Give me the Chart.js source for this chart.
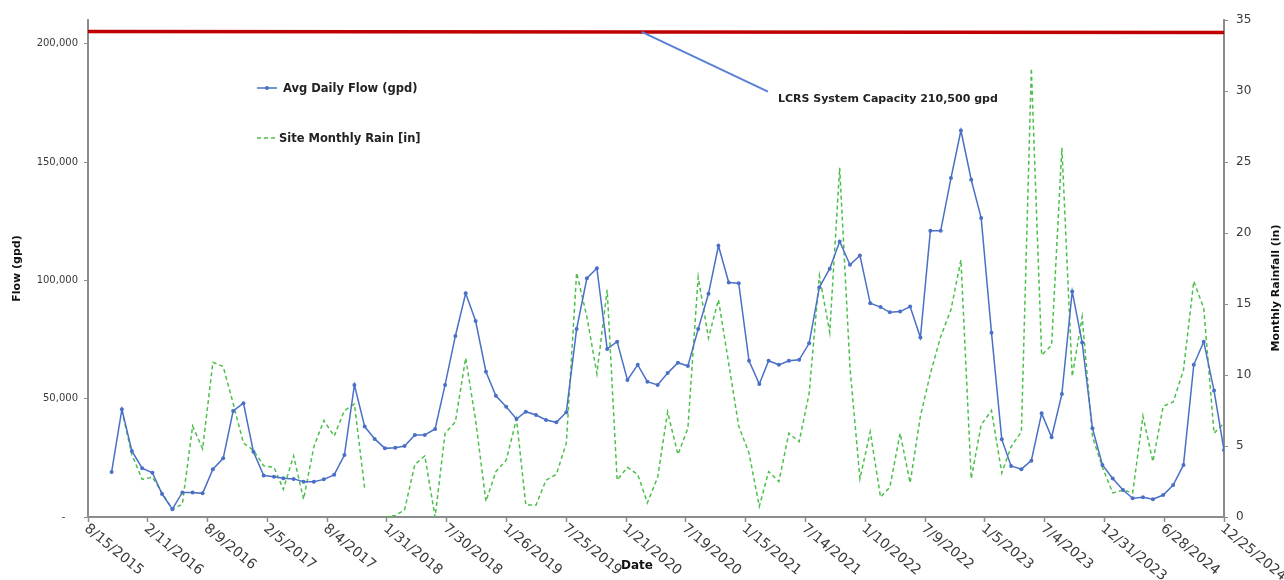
<!DOCTYPE html>
<html>
<head>
<meta charset="utf-8">
<title>Avg Daily Flow vs Monthly Rain</title>
<script src="https://cdn.jsdelivr.net/npm/chart.js@4.4.1/dist/chart.umd.min.js"></script>
<style>
html, body { margin: 0; padding: 0; background: #fff; }
#wrap { width: 1284px; height: 580px; position: relative; }
</style>
</head>
<body>
<div id="wrap"><canvas id="flowChart"></canvas></div>
<script>
/* =========================
   DATA
========================= */

// one reading per month (plotted on the 25th)
const months = [
    '2015-10','2015-11','2015-12',
    '2016-01','2016-02','2016-03','2016-04','2016-05','2016-06','2016-07','2016-08','2016-09','2016-10','2016-11','2016-12',
    '2017-01','2017-02','2017-03','2017-04','2017-05','2017-06','2017-07','2017-08','2017-09','2017-10','2017-11','2017-12',
    '2018-01','2018-02','2018-03','2018-04','2018-05','2018-06','2018-07','2018-08','2018-09','2018-10','2018-11','2018-12',
    '2019-01','2019-02','2019-03','2019-04','2019-05','2019-06','2019-07','2019-08','2019-09','2019-10','2019-11','2019-12',
    '2020-01','2020-02','2020-03','2020-04','2020-05','2020-06','2020-07','2020-08','2020-09','2020-10','2020-11','2020-12',
    '2021-01','2021-02','2021-03','2021-04','2021-05','2021-06','2021-07','2021-08','2021-09','2021-10','2021-11','2021-12',
    '2022-01','2022-02','2022-03','2022-04','2022-05','2022-06','2022-07','2022-08','2022-09','2022-10','2022-11','2022-12',
    '2023-01','2023-02','2023-03','2023-04','2023-05','2023-06','2023-07','2023-08','2023-09','2023-10','2023-11','2023-12',
    '2024-01','2024-02','2024-03','2024-04','2024-05','2024-06','2024-07','2024-08','2024-09','2024-10','2024-11','2024-12'
];

const avgFlow = [
    19000, 45500, 27900,
    20600, 18700, 9700, 3300, 10400, 10400, 10000, 20200, 24800, 44800, 48100, 27600,
    17500, 17000, 16400, 16100, 14900, 14900, 15900, 17800, 26200, 55800, 38200, 33000,
    29000, 29300, 30000, 34700, 34700, 37200, 55800, 76500, 94500, 82800, 61400, 51200,
    46600, 41400, 44500, 43100, 41000, 40000, 44300, 79400, 100900, 105100, 71000, 74100,
    57900, 64300, 57200, 55800, 60800, 65200, 63800, 79400, 94300, 114600, 99100, 98800,
    66000, 56200, 66000, 64300, 66000, 66400, 73400, 97100, 104900, 116400, 106600, 110500,
    90300, 88700, 86500, 86800, 88900, 75800, 120900, 120900, 143200, 163300, 142500, 126300,
    77900, 32800, 21600, 20200, 23800, 43800, 33700, 52000, 95300, 73700, 37500, 22000,
    16300, 11400, 7900, 8300, 7500, 9300, 13500, 22000, 64300, 74100, 53400, 28300
];

const monthlyRain = [
    null, 7.5, 4.4,
    2.65, 2.8, 1.7, 0.55, 0.9, 6.4, 4.8, 10.9, 10.6, 8.0, 5.2, 4.7,
    3.6, 3.5, 1.95, 4.3, 1.25, 4.95, 6.8, 5.7, 7.5, 7.95, 2.0, null,
    0, 0.1, 0.5, 3.7, 4.3, 0, 5.9, 6.7, 11.2, 6.8, 1.1, 3.2,
    4.0, 6.9, 0.85, 0.85, 2.6, 3.0, 5.2, 17.2, 14.1, 10.1, 16.0, 2.6,
    3.5, 3.0, 1.0, 2.8, 7.4, 4.4, 6.25, 16.9, 12.6, 15.3, 10.8, 6.4,
    4.5, 0.75, 3.2, 2.5, 5.9, 5.3, 8.7, 17.0, 13.0, 24.6, 10.5, 2.7,
    6.0, 1.4, 2.1, 5.9, 2.4, 7.1, 10.1, 12.7, 14.6, 18.1, 2.7, 6.5,
    7.5, 3.1, 4.95, 6.0, 31.6, 11.4, 12.1, 26.0, 9.9, 14.1, 5.65, 3.5,
    1.7, 1.9, 1.7, 7.1, 3.9, 7.8, 8.1, 10.35, 16.6, 14.7, 5.9, 6.6
];

// x axis tick labels (every 180 days)
const xTickLabels = [
    '8/15/2015','2/11/2016','8/9/2016','2/5/2017','8/4/2017','1/31/2018','7/30/2018',
    '1/26/2019','7/25/2019','1/21/2020','7/19/2020','1/15/2021','7/14/2021','1/10/2022',
    '7/9/2022','1/5/2023','7/4/2023','12/31/2023','6/28/2024','12/25/2024'
];

const flowTicks = [0, 50000, 100000, 150000, 200000];
const rainTicks = [0, 5, 10, 15, 20, 25, 30, 35];

// system capacity line, as drawn on the chart
const capacityDates = ['8/15/2015', '12/25/2024'];
const capacityFlow = [205100, 204700];

// callout: [date, flow] where the arrow starts / ends and the text sits
const calloutFrom = ['3/8/2020', 205000];
const calloutTo = ['3/23/2021', 179700];
const calloutText = ['4/22/2021', 176700];


/* =========================
   HELPERS
========================= */

const FONT = "'DejaVu Sans', Verdana, sans-serif";
const BLUE = '#4a70c6';
const GREEN = '#4cbf4c';
const RED = '#c00000';
const AXIS = '#8c8c8c';
const TEXT = '#3a3a3a';

function usDay(str){
    let p = str.split('/');
    return Date.UTC(+p[2], +p[0] - 1, +p[1]) / 864e5;
}

function monthDay(str){
    let p = str.split('-');
    return Date.UTC(+p[0], +p[1] - 1, 25) / 864e5;
}

const flowPoints = months.map((m, i) => ({ x: monthDay(m), y: avgFlow[i] }));
const rainPoints = months.map((m, i) => ({ x: monthDay(m), y: monthlyRain[i] }));
const capacityPoints = capacityDates.map((d, i) => ({ x: usDay(d), y: capacityFlow[i] }));

const xMin = usDay(xTickLabels[0]);
const xMax = usDay(xTickLabels[xTickLabels.length - 1]);


/* =========================
   EXTRA DRAWING (labels, legend, callout)
========================= */

const extrasPlugin = {
    id: 'extras',

    afterDraw(chart){

        const { ctx, scales: { x, y } } = chart;

        ctx.save();

        // rotated date labels
        ctx.font = '14px ' + FONT;
        ctx.fillStyle = TEXT;
        ctx.textAlign = 'left';
        ctx.textBaseline = 'middle';

        xTickLabels.forEach(label => {
            let px = x.getPixelForValue(usDay(label));
            ctx.save();
            ctx.translate(px - 2, 527);
            ctx.rotate(39.5 * Math.PI / 180);
            ctx.fillText(label, 0, 0);
            ctx.restore();
        });

        // axis titles
        ctx.font = 'bold 12px ' + FONT;
        ctx.fillStyle = '#111';
        ctx.textAlign = 'center';
        ctx.fillText('Date', 637, 566);

        ctx.save();
        ctx.translate(1276, 288);
        ctx.rotate(-Math.PI / 2);
        ctx.font = 'bold 11px ' + FONT;
        ctx.fillText('Monthly Rainfall (in)', 0, 0);
        ctx.restore();

        // legend
        ctx.font = 'bold 11.5px ' + FONT;
        ctx.textAlign = 'left';
        ctx.fillStyle = '#222';

        ctx.strokeStyle = BLUE;
        ctx.lineWidth = 1.5;
        ctx.beginPath();
        ctx.moveTo(257, 88);
        ctx.lineTo(277, 88);
        ctx.stroke();
        ctx.fillStyle = BLUE;
        ctx.beginPath();
        ctx.arc(267, 88, 2, 0, Math.PI * 2);
        ctx.fill();
        ctx.fillStyle = '#222';
        ctx.fillText('Avg Daily Flow (gpd)', 283, 89);

        ctx.strokeStyle = GREEN;
        ctx.setLineDash([4, 3]);
        ctx.beginPath();
        ctx.moveTo(257, 138);
        ctx.lineTo(276, 138);
        ctx.stroke();
        ctx.setLineDash([]);
        ctx.fillText('Site Monthly Rain [in]', 279, 139);

        // capacity callout
        ctx.strokeStyle = '#5b7fd6';
        ctx.lineWidth = 2;
        ctx.beginPath();
        ctx.moveTo(x.getPixelForValue(usDay(calloutFrom[0])), y.getPixelForValue(calloutFrom[1]));
        ctx.lineTo(x.getPixelForValue(usDay(calloutTo[0])), y.getPixelForValue(calloutTo[1]));
        ctx.stroke();

        ctx.font = 'bold 11px ' + FONT;
        ctx.fillText(
            'LCRS System Capacity 210,500 gpd',
            x.getPixelForValue(usDay(calloutText[0])),
            y.getPixelForValue(calloutText[1])
        );

        ctx.restore();
    }
};


/* =========================
   CHART
========================= */

const ctx = document.getElementById('flowChart');

const chart = new Chart(ctx, {

    type: 'line',

    data: {
        datasets: [
            {
                label: 'Avg Daily Flow (gpd)',
                data: flowPoints,
                yAxisID: 'y',
                borderColor: BLUE,
                backgroundColor: BLUE,
                borderWidth: 1.5,
                pointRadius: 2,
                pointBorderWidth: 0,
                tension: 0
            },
            {
                label: 'Site Monthly Rain [in]',
                data: rainPoints,
                yAxisID: 'y1',
                borderColor: GREEN,
                borderWidth: 1.5,
                borderDash: [4, 3],
                pointRadius: 0,
                spanGaps: false,
                tension: 0
            },
            {
                label: 'LCRS System Capacity',
                data: capacityPoints,
                yAxisID: 'y',
                borderColor: RED,
                borderWidth: 3.5,
                pointRadius: 0,
                tension: 0
            }
        ]
    },

    options: {
        responsive: true,
        maintainAspectRatio: false,
        animation: false,
        parsing: false,
        normalized: true,

        layout: {
            padding: { top: 20, left: 0, right: 0, bottom: 0 }
        },

        plugins: {
            legend: { display: false },
            tooltip: { enabled: false }
        },

        scales: {
            x: {
                type: 'linear',
                min: xMin,
                max: xMax,
                afterBuildTicks: s => {
                    s.ticks = xTickLabels.map(l => ({ value: usDay(l) }));
                },
                afterFit: s => { s.height = 63; },
                ticks: { display: false },
                grid: { drawOnChartArea: false, tickLength: 5, tickColor: AXIS, tickWidth: 1.5 },
                border: { color: AXIS, width: 2 }
            },

            y: {
                position: 'left',
                min: 0,
                max: 210000,
                afterBuildTicks: s => {
                    s.ticks = flowTicks.map(v => ({ value: v }));
                },
                afterFit: s => { s.width = 88; },
                ticks: {
                    callback: v => v === 0 ? '-    ' : v.toLocaleString('en-US'),
                    font: { family: FONT, size: 10 },
                    color: TEXT,
                    padding: 6
                },
                grid: { drawOnChartArea: false, tickLength: 4, tickColor: AXIS },
                border: { color: AXIS, width: 2 },
                title: {
                    display: true,
                    text: 'Flow (gpd)',
                    font: { family: FONT, size: 11, weight: 'bold' },
                    color: '#111',
                    padding: { top: 11 }
                }
            },

            y1: {
                position: 'right',
                min: 0,
                max: 35,
                afterBuildTicks: s => {
                    s.ticks = rainTicks.map(v => ({ value: v }));
                },
                afterFit: s => { s.width = 60; },
                ticks: {
                    font: { family: FONT, size: 12 },
                    color: TEXT,
                    padding: 8
                },
                grid: { drawOnChartArea: false, tickLength: 4, tickColor: AXIS },
                border: { color: AXIS, width: 2 }
            }
        }
    },

    plugins: [extrasPlugin]
});
</script>
</body>
</html>
